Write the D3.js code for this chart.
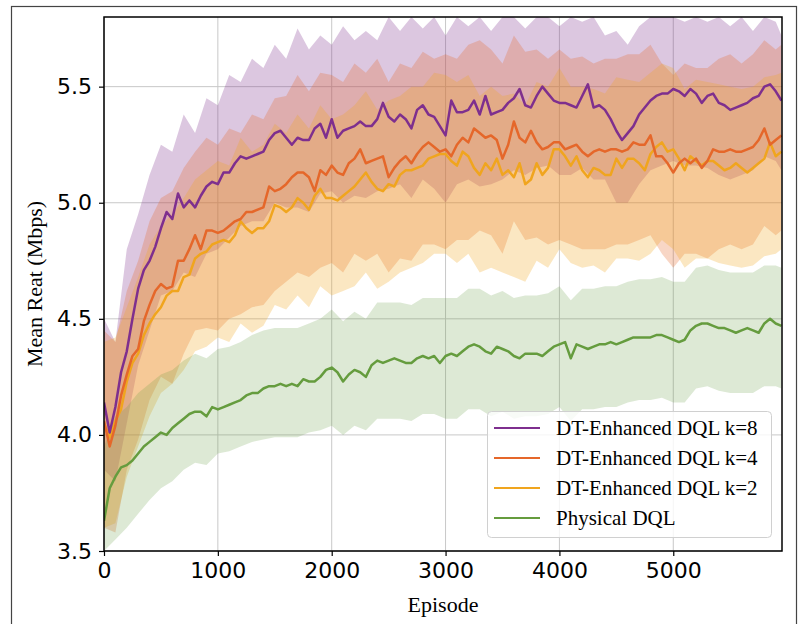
<!DOCTYPE html>
<html>
<head>
<meta charset="utf-8">
<script src="https://cdn.jsdelivr.net/npm/d3@7"></script>
<style>
  body { margin: 0; background: #fff; }
  .tick text { font-family: "DejaVu Sans", sans-serif; font-size: 22px; fill: #000; }
  .lbl { font-family: "Liberation Serif", "Times New Roman", serif; font-size: 22px; fill: #000; }
  .leg { font-family: "Liberation Serif", "Times New Roman", serif; font-size: 21px; fill: #000; }
</style>
</head>
<body>
<div id="chart"></div>
<script>
// episodes of the smoothed curves (every 50) and of the raw bands (every 100)
var meanEpisodes = d3.range(0, 6000, 50);
var bandEpisodes = d3.range(0, 6000, 100).concat([5950]);

var seriesNames = ["DT-Enhanced DQL k=8", "DT-Enhanced DQL k=4", "DT-Enhanced DQL k=2", "Physical DQL"];
var seriesColors = ["#7E2F8E", "#E5672A", "#F0A51E", "#659C3E"];

var xTicks = [0, 1000, 2000, 3000, 4000, 5000];
var yTicks = [3.5, 4.0, 4.5, 5.0, 5.5];

// smoothed mean rate
var meanK8 = [4.14,4.01,4.12,4.27,4.36,4.50,4.63,4.71,4.75,4.81,
  4.89,4.96,4.93,5.04,4.98,5.01,4.98,5.03,5.07,5.09,
  5.08,5.13,5.13,5.17,5.20,5.19,5.20,5.21,5.22,5.27,
  5.30,5.31,5.28,5.25,5.28,5.27,5.27,5.32,5.34,5.28,
  5.36,5.28,5.31,5.32,5.33,5.35,5.33,5.33,5.36,5.43,
  5.37,5.35,5.38,5.36,5.32,5.40,5.42,5.38,5.37,5.33,
  5.29,5.44,5.39,5.39,5.40,5.44,5.38,5.46,5.38,5.39,
  5.40,5.43,5.45,5.49,5.42,5.41,5.46,5.50,5.47,5.44,
  5.43,5.43,5.42,5.41,5.46,5.51,5.41,5.42,5.40,5.36,
  5.31,5.27,5.30,5.33,5.38,5.41,5.44,5.46,5.47,5.47,
  5.49,5.48,5.46,5.49,5.47,5.43,5.46,5.47,5.43,5.42,
  5.40,5.41,5.42,5.43,5.45,5.46,5.50,5.51,5.48,5.44];
var meanK4 = [4.06,3.95,4.04,4.17,4.26,4.34,4.37,4.49,4.56,4.62,
  4.65,4.63,4.64,4.75,4.75,4.80,4.86,4.80,4.88,4.88,
  4.87,4.88,4.90,4.92,4.93,4.96,4.96,4.97,4.98,5.07,
  5.05,5.06,5.08,5.11,5.13,5.13,5.11,5.05,5.14,5.12,
  5.16,5.13,5.12,5.17,5.19,5.23,5.17,5.18,5.19,5.20,
  5.11,5.15,5.18,5.20,5.17,5.21,5.24,5.26,5.24,5.22,
  5.23,5.20,5.25,5.28,5.26,5.32,5.30,5.28,5.29,5.27,
  5.19,5.25,5.35,5.28,5.26,5.31,5.26,5.23,5.24,5.26,
  5.26,5.23,5.24,5.25,5.22,5.20,5.22,5.23,5.22,5.23,
  5.23,5.22,5.23,5.26,5.25,5.25,5.29,5.20,5.20,5.17,
  5.13,5.17,5.19,5.17,5.19,5.15,5.18,5.23,5.22,5.22,
  5.23,5.22,5.22,5.23,5.24,5.27,5.32,5.25,5.27,5.29];
var meanK2 = [4.05,3.99,4.06,4.11,4.23,4.31,4.35,4.43,4.48,4.52,
  4.55,4.60,4.62,4.62,4.68,4.69,4.76,4.78,4.79,4.82,
  4.83,4.84,4.83,4.86,4.92,4.89,4.87,4.89,4.89,4.92,
  4.99,4.98,4.96,4.98,5.02,5.00,4.97,5.03,5.06,5.02,
  5.02,5.01,5.03,5.05,5.07,5.10,5.13,5.09,5.06,5.05,
  5.08,5.07,5.12,5.14,5.14,5.15,5.16,5.19,5.20,5.21,
  5.21,5.18,5.16,5.22,5.20,5.15,5.12,5.17,5.14,5.19,
  5.12,5.14,5.11,5.17,5.08,5.10,5.17,5.12,5.15,5.23,
  5.23,5.20,5.16,5.20,5.14,5.11,5.15,5.14,5.12,5.12,
  5.19,5.15,5.19,5.19,5.17,5.14,5.21,5.24,5.26,5.22,
  5.23,5.19,5.14,5.20,5.18,5.16,5.18,5.18,5.16,5.14,
  5.15,5.17,5.15,5.13,5.15,5.17,5.19,5.26,5.20,5.22];
var meanPhys = [3.63,3.77,3.82,3.86,3.87,3.89,3.92,3.95,3.97,3.99,
  4.01,4.00,4.03,4.05,4.07,4.09,4.10,4.10,4.08,4.12,
  4.11,4.12,4.13,4.14,4.15,4.17,4.18,4.18,4.20,4.21,
  4.21,4.22,4.21,4.22,4.21,4.24,4.23,4.23,4.25,4.28,
  4.29,4.27,4.23,4.26,4.28,4.27,4.25,4.30,4.32,4.31,
  4.32,4.33,4.32,4.31,4.31,4.33,4.34,4.33,4.34,4.31,
  4.34,4.35,4.34,4.36,4.38,4.39,4.38,4.36,4.35,4.38,
  4.37,4.36,4.34,4.33,4.35,4.35,4.35,4.34,4.36,4.38,
  4.39,4.40,4.33,4.39,4.38,4.37,4.38,4.39,4.39,4.40,
  4.39,4.40,4.41,4.42,4.42,4.42,4.42,4.43,4.43,4.42,
  4.41,4.40,4.41,4.45,4.47,4.48,4.48,4.47,4.46,4.46,
  4.45,4.44,4.45,4.46,4.45,4.44,4.48,4.50,4.48,4.47];

// raw episode rate: spread of the noisy curve (low / high)
var rawK8Hi = [4.50,4.40,4.80,4.95,5.12,5.25,5.22,5.38,5.30,5.45,
  5.42,5.55,5.52,5.62,5.58,5.68,5.62,5.75,5.66,5.72,
  5.68,5.76,5.70,5.74,5.70,5.80,5.74,5.80,5.75,5.80,
  5.72,5.80,5.76,5.80,5.74,5.80,5.80,5.75,5.80,5.80,
  5.76,5.80,5.78,5.80,5.72,5.74,5.68,5.76,5.80,5.80,
  5.80,5.78,5.80,5.78,5.80,5.76,5.80,5.74,5.80,5.78,5.72];
var rawK8Lo = [3.85,3.80,4.05,4.30,4.45,4.60,4.62,4.70,4.68,4.78,
  4.80,4.85,4.90,4.92,4.92,5.00,4.98,4.98,4.96,5.04,
  5.05,5.00,5.03,5.02,5.05,5.06,5.08,5.02,5.10,5.06,
  5.00,5.08,5.10,5.07,5.08,5.10,5.14,5.12,5.15,5.16,
  5.12,5.12,5.15,5.10,5.10,5.00,5.00,5.08,5.14,5.16,
  5.18,5.16,5.16,5.15,5.12,5.10,5.12,5.14,5.20,5.18,5.14];
var rawK4Hi = [4.45,4.40,4.62,4.75,4.92,5.02,5.05,5.15,5.22,5.28,
  5.25,5.32,5.30,5.38,5.36,5.45,5.46,5.55,5.48,5.56,
  5.55,5.52,5.60,5.56,5.62,5.52,5.60,5.58,5.65,5.62,
  5.64,5.62,5.68,5.70,5.66,5.60,5.72,5.65,5.66,5.62,
  5.66,5.62,5.63,5.60,5.62,5.62,5.64,5.64,5.68,5.60,
  5.55,5.60,5.58,5.58,5.62,5.64,5.60,5.64,5.70,5.66,5.68];
var rawK4Lo = [3.60,3.58,3.85,3.98,4.15,4.25,4.22,4.35,4.45,4.46,
  4.45,4.50,4.52,4.55,4.56,4.62,4.66,4.70,4.68,4.72,
  4.74,4.70,4.78,4.75,4.78,4.70,4.76,4.75,4.82,4.82,
  4.80,4.84,4.84,4.88,4.86,4.78,4.92,4.84,4.85,4.82,
  4.84,4.82,4.80,4.80,4.80,4.82,4.82,4.84,4.86,4.78,
  4.72,4.78,4.78,4.76,4.80,4.82,4.80,4.82,4.90,4.86,4.88];
var rawK2Hi = [4.40,4.42,4.55,4.68,4.82,4.90,4.95,5.02,5.10,5.14,
  5.18,5.16,5.28,5.22,5.25,5.34,5.30,5.38,5.32,5.42,
  5.36,5.38,5.42,5.48,5.40,5.44,5.46,5.50,5.50,5.56,
  5.55,5.52,5.55,5.46,5.50,5.46,5.47,5.42,5.52,5.50,
  5.58,5.50,5.50,5.49,5.47,5.54,5.53,5.52,5.56,5.60,
  5.58,5.49,5.53,5.52,5.51,5.50,5.49,5.50,5.54,5.55,5.56];
var rawK2Lo = [3.60,3.62,3.82,3.95,4.08,4.18,4.22,4.28,4.36,4.38,
  4.42,4.40,4.48,4.44,4.47,4.56,4.54,4.60,4.55,4.64,
  4.60,4.62,4.64,4.70,4.63,4.66,4.70,4.72,4.74,4.78,
  4.78,4.74,4.78,4.70,4.72,4.70,4.68,4.66,4.75,4.72,
  4.80,4.74,4.72,4.73,4.70,4.76,4.76,4.75,4.78,4.84,
  4.80,4.72,4.76,4.76,4.74,4.73,4.72,4.73,4.77,4.78,4.80];
var rawPhysHi = [3.95,4.08,4.12,4.18,4.22,4.26,4.28,4.32,4.35,4.33,
  4.37,4.38,4.40,4.43,4.45,4.46,4.46,4.46,4.48,4.50,
  4.54,4.49,4.53,4.50,4.57,4.57,4.57,4.56,4.59,4.59,
  4.59,4.59,4.63,4.63,4.60,4.62,4.59,4.60,4.60,4.61,
  4.64,4.58,4.63,4.63,4.64,4.64,4.66,4.67,4.67,4.68,
  4.66,4.66,4.72,4.73,4.71,4.70,4.70,4.70,4.73,4.73,4.72];
var rawPhysLo = [3.50,3.55,3.60,3.66,3.72,3.77,3.80,3.85,3.88,3.87,
  3.92,3.93,3.95,3.97,3.98,3.99,3.99,3.99,4.01,4.02,
  4.04,4.00,4.04,4.02,4.07,4.07,4.07,4.06,4.09,4.09,
  4.07,4.07,4.11,4.11,4.08,4.10,4.07,4.08,4.08,4.09,
  4.12,4.06,4.11,4.11,4.12,4.12,4.14,4.15,4.15,4.16,
  4.14,4.14,4.20,4.21,4.19,4.18,4.18,4.18,4.21,4.21,4.20];

var means = [meanK8, meanK4, meanK2, meanPhys];
var rawHi = [rawK8Hi, rawK4Hi, rawK2Hi, rawPhysHi];
var rawLo = [rawK8Lo, rawK4Lo, rawK2Lo, rawPhysLo];

var width = 800, height = 624;
var pLeft = 104, pRight = 782, pTop = 17, pBottom = 551;

var svg = d3.select("#chart").append("svg")
  .attr("width", width)
  .attr("height", height);

//Rahmen aussen
svg.append("rect")
  .attr("x", 11.5).attr("y", 6.5)
  .attr("width", 785).attr("height", 700)
  .attr("fill", "none")
  .attr("stroke", "#444")
  .attr("stroke-width", 1.2);

var x = d3.scaleLinear().domain([0, 5955]).range([pLeft, pRight]);
var y = d3.scaleLinear().domain([3.5, 5.8]).range([pBottom, pTop]);

svg.append("clipPath").attr("id", "plotclip")
  .append("rect")
  .attr("x", pLeft).attr("y", pTop)
  .attr("width", pRight - pLeft).attr("height", pBottom - pTop);

//grid
svg.append("g").selectAll("line").data(xTicks).enter().append("line")
  .attr("x1", function(d){ return x(d); }).attr("x2", function(d){ return x(d); })
  .attr("y1", pTop).attr("y2", pBottom)
  .attr("stroke", "#c8c8c8").attr("stroke-width", 1);
svg.append("g").selectAll("line").data(yTicks).enter().append("line")
  .attr("x1", pLeft).attr("x2", pRight)
  .attr("y1", function(d){ return y(d); }).attr("y2", function(d){ return y(d); })
  .attr("stroke", "#c8c8c8").attr("stroke-width", 1);

var plot = svg.append("g").attr("clip-path", "url(#plotclip)");

//raw bands
var area = d3.area()
  .x(function(d){ return x(d.e); })
  .y0(function(d){ return y(d.lo); })
  .y1(function(d){ return y(d.hi); });

for (var s = 0; s < 4; s++) {
  var pts = bandEpisodes.map(function(e, i){ return {e: e, lo: rawLo[s][i], hi: rawHi[s][i]}; });
  plot.append("path")
    .datum(pts)
    .attr("d", area)
    .attr("fill", seriesColors[s])
    .attr("fill-opacity", s == 3 ? 0.22 : 0.27);
}

//smoothed lines
var line = d3.line()
  .x(function(d){ return x(d.e); })
  .y(function(d){ return y(d.v); });

for (var s = 3; s >= 0; s--) {
  var pts2 = meanEpisodes.map(function(e, i){ return {e: e, v: means[s][i]}; });
  plot.append("path")
    .datum(pts2)
    .attr("d", line)
    .attr("fill", "none")
    .attr("stroke", seriesColors[s])
    .attr("stroke-width", 2.5)
    .attr("stroke-linejoin", "round");
}

//axes
var xAxis = svg.append("g")
  .attr("transform", "translate(0," + pBottom + ")")
  .call(d3.axisBottom(x).tickValues(xTicks).tickSize(5).tickPadding(6).tickFormat(d3.format("d")));
var yAxis = svg.append("g")
  .attr("transform", "translate(" + pLeft + ",0)")
  .call(d3.axisLeft(y).tickValues(yTicks).tickSize(5).tickPadding(7).tickFormat(d3.format(".1f")));
xAxis.select(".domain").remove();
yAxis.select(".domain").remove();
svg.selectAll(".tick line").attr("stroke", "#000").attr("stroke-width", 1.2);

//Rahmen Plot
svg.append("rect")
  .attr("x", pLeft).attr("y", pTop)
  .attr("width", pRight - pLeft).attr("height", pBottom - pTop)
  .attr("fill", "none")
  .attr("stroke", "#000")
  .attr("stroke-width", 1.5);

//labels
svg.append("text")
  .attr("class", "lbl")
  .attr("x", (pLeft + pRight) / 2).attr("y", 612)
  .attr("text-anchor", "middle")
  .text("Episode");
svg.append("text")
  .attr("class", "lbl")
  .attr("transform", "translate(42," + ((pTop + pBottom) / 2) + ") rotate(-90)")
  .attr("text-anchor", "middle")
  .text("Mean Reat (Mbps)");

//legend
var leg = svg.append("g");
leg.append("rect")
  .attr("x", 487.5).attr("y", 411.5)
  .attr("width", 284).attr("height", 126)
  .attr("rx", 4)
  .attr("fill", "#fff").attr("fill-opacity", 0.8)
  .attr("stroke", "#d0d0d0").attr("stroke-width", 1);
seriesNames.forEach(function(n, i){
  var ly = 428 + i * 30;
  leg.append("line")
    .attr("x1", 494).attr("x2", 540)
    .attr("y1", ly).attr("y2", ly)
    .attr("stroke", seriesColors[i]).attr("stroke-width", 2);
  leg.append("text")
    .attr("class", "leg")
    .attr("x", 556).attr("y", ly + 7)
    .text(n);
});
</script>
</body>
</html>
